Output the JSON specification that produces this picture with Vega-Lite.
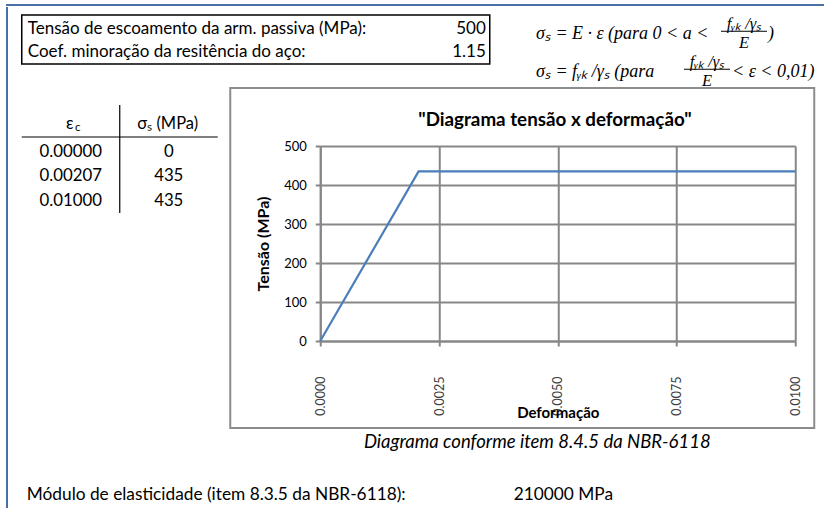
{
  "$schema": "https://vega.github.io/schema/vega-lite/v6.json",
  "background": "white",
  "padding": {"left": 6, "top": 4, "right": 0, "bottom": 0},
  "spacing": 0,
  "config": {
    "view": {"stroke": null},
    "font": "Lato",
    "text": {"font": "Lato", "color": "black", "baseline": "middle"}
  },
  "datasets": {
    "curve": [
      {"eps": 0, "sigma": 0},
      {"eps": 0.00207, "sigma": 434.78},
      {"eps": 0.01, "sigma": 434.78}
    ],
    "params": [
      {"k": "fy", "label": "Tensão de escoamento da arm. passiva (MPa):", "value": "500"},
      {"k": "gs", "label": "Coef. minoração da resitência do aço:", "value": "1.15"}
    ],
    "formula": [
      {"id": "m1", "part": "main", "line": "l1", "t": "σₛ = E · ε (para 0 < a <"},
      {"id": "n1", "part": "num", "line": "l1", "t": "fᵧₖ /γₛ"},
      {"id": "d1", "part": "den", "line": "l1", "t": "E"},
      {"id": "t1", "part": "tail", "line": "l1", "t": ")"},
      {"id": "m2", "part": "main", "line": "l2", "t": "σₛ = fᵧₖ /γₛ (para"},
      {"id": "n2", "part": "num", "line": "l2", "t": "fᵧₖ /γₛ"},
      {"id": "d2", "part": "den", "line": "l2", "t": "E"},
      {"id": "t2", "part": "tail", "line": "l2", "t": "< ε < 0,01)"}
    ],
    "head": [
      {"col": "eps", "h": "ε", "sub": "c"},
      {"col": "sig", "h": "σₛ (MPa)", "sub": ""}
    ],
    "notes": [
      {"k": "lab", "row": "foot", "t": "Módulo de elasticidade (item 8.3.5 da NBR-6118):"},
      {"k": "val", "row": "foot", "t": "210000 MPa"},
      {"k": "val", "row": "cap", "t": "Diagrama conforme item 8.4.5 da NBR-6118"}
    ]
  },
  "vconcat": [
    {
      "width": 816,
      "height": 0.01,
      "view": {"stroke": "#4a6ea6", "strokeWidth": 2},
      "data": {"values": []},
      "mark": "text"
    },
    {
      "spacing": 11.75,
      "hconcat": [
        {
          "width": 0.01,
          "height": 500,
          "view": {"stroke": "#4a6ea6", "strokeWidth": 2},
          "data": {"values": []},
          "mark": "text"
        },
        {
          "spacing": 0,
          "vconcat": [
            {
              "width": 1,
              "height": 5.25,
              "data": {"values": []},
              "mark": "text"
            },
            {
              "spacing": -4,
              "vconcat": [
                {
                  "spacing": 29.25,
                  "hconcat": [
                    {
                      "width": 468,
                      "height": 49,
                      "view": {"stroke": "black", "strokeWidth": 1.5},
                      "data": {"name": "params"},
                      "encoding": {
                        "y": {"field": "k", "type": "nominal", "scale": {"type": "point", "domain": ["fy", "gs"], "range": [14, 37], "padding": 0}, "axis": null}
                      },
                      "layer": [
                        {
                          "mark": {"type": "text", "align": "left", "fontSize": 17},
                          "encoding": {
                            "x": {"datum": "label", "type": "nominal", "scale": {"type": "point", "domain": ["label", "value"], "range": [6, 464], "padding": 0}, "axis": null},
                            "text": {"field": "label"}
                          }
                        },
                        {
                          "mark": {"type": "text", "align": "right", "fontSize": 17},
                          "encoding": {
                            "x": {"datum": "value", "type": "nominal", "scale": {"type": "point", "domain": ["label", "value"], "range": [6, 464], "padding": 0}, "axis": null},
                            "text": {"field": "value"}
                          }
                        }
                      ]
                    },
                    {
                      "width": 300,
                      "height": 74,
                      "data": {"name": "formula"},
                      "encoding": {
                        "x": {"datum": "L", "type": "nominal", "scale": {"type": "point", "domain": ["L", "R"], "range": [0, 300], "padding": 0}, "axis": null},
                        "y": {"field": "line", "type": "nominal", "scale": {"type": "point", "domain": ["l1", "l2"], "range": [18.75, 56.75], "padding": 0}, "axis": null}
                      },
                      "layer": [
                        {"transform": [{"filter": "datum.part == 'main'"}], "mark": {"type": "text", "align": "left", "dx": 16, "font": "Liberation Serif", "fontStyle": "italic", "fontSize": 18}, "encoding": {"text": {"field": "t"}}},
                        {"transform": [{"filter": "datum.id == 'n1'"}], "mark": {"type": "text", "align": "center", "dx": 224, "dy": -10, "font": "Liberation Serif", "fontStyle": "italic", "fontSize": 16.5}, "encoding": {"text": {"field": "t"}}},
                        {"transform": [{"filter": "datum.id == 'd1'"}], "mark": {"type": "text", "align": "center", "dx": 224, "dy": 9, "font": "Liberation Serif", "fontStyle": "italic", "fontSize": 16.5}, "encoding": {"text": {"field": "t"}}},
                        {"transform": [{"filter": "datum.id == 't1'"}], "mark": {"type": "text", "align": "left", "dx": 248, "font": "Liberation Serif", "fontStyle": "italic", "fontSize": 18}, "encoding": {"text": {"field": "t"}}},
                        {"transform": [{"filter": "datum.id == 'n2'"}], "mark": {"type": "text", "align": "center", "dx": 187, "dy": -10, "font": "Liberation Serif", "fontStyle": "italic", "fontSize": 16.5}, "encoding": {"text": {"field": "t"}}},
                        {"transform": [{"filter": "datum.id == 'd2'"}], "mark": {"type": "text", "align": "center", "dx": 187, "dy": 9, "font": "Liberation Serif", "fontStyle": "italic", "fontSize": 16.5}, "encoding": {"text": {"field": "t"}}},
                        {"transform": [{"filter": "datum.id == 't2'"}], "mark": {"type": "text", "align": "left", "dx": 212, "font": "Liberation Serif", "fontStyle": "italic", "fontSize": 18}, "encoding": {"text": {"field": "t"}}},
                        {"transform": [{"filter": "datum.id == 'n1'"}], "mark": {"type": "tick", "orient": "horizontal", "size": 46, "thickness": 1, "xOffset": 224, "yOffset": -2.5, "color": "black", "opacity": 1}},
                        {"transform": [{"filter": "datum.id == 'n2'"}], "mark": {"type": "tick", "orient": "horizontal", "size": 46, "thickness": 1, "xOffset": 187, "yOffset": -2.5, "color": "black", "opacity": 1}}
                      ]
                    }
                  ]
                },
                {
                  "spacing": 2,
                  "vconcat": [
                    {
                      "spacing": 10.5,
                      "hconcat": [
                        {
                          "width": 196,
                          "height": 130,
                          "layer": [
                            {
                              "data": {"name": "head"},
                              "mark": {"type": "text", "fontSize": 16.5, "dx": -1, "dy": -3},
                              "encoding": {
                                "x": {"field": "col", "type": "nominal", "scale": {"type": "band", "domain": ["eps", "sig"], "paddingInner": 0, "paddingOuter": 0}, "axis": null},
                                "y": {"datum": "hdr", "type": "ordinal", "scale": {"type": "point", "domain": ["hdr", 0, 0.00207, 0.01], "range": [-19, 55], "padding": 0}, "axis": null},
                                "text": {"field": "h"}
                              }
                            },
                            {
                              "data": {"name": "head"},
                              "transform": [{"filter": "datum.sub != ''"}],
                              "mark": {"type": "text", "fontSize": 11.5, "dx": 7, "dy": 1},
                              "encoding": {
                                "x": {"field": "col", "type": "nominal"},
                                "y": {"datum": "hdr", "type": "ordinal"},
                                "text": {"field": "sub"}
                              }
                            },
                            {
                              "data": {"name": "curve"},
                              "mark": {"type": "text", "fontSize": 16.8},
                              "encoding": {
                                "x": {"datum": "eps", "type": "nominal"},
                                "y": {"field": "eps", "type": "ordinal"},
                                "text": {"field": "eps", "type": "quantitative", "format": ".5f"}
                              }
                            },
                            {
                              "data": {"name": "curve"},
                              "mark": {"type": "text", "fontSize": 16.8},
                              "encoding": {
                                "x": {"datum": "sig", "type": "nominal"},
                                "y": {"field": "eps", "type": "ordinal"},
                                "text": {"field": "sigma", "type": "quantitative", "format": ".0f"}
                              }
                            },
                            {
                              "data": {"values": [{}]},
                              "mark": {"type": "rule", "color": "black", "strokeWidth": 1.2, "yOffset": 10},
                              "encoding": {"y": {"datum": "hdr", "type": "ordinal"}}
                            },
                            {
                              "data": {"values": [{}]},
                              "mark": {"type": "rule", "color": "black", "strokeWidth": 1.2, "yOffset": -22, "y2Offset": 12},
                              "encoding": {
                                "x": {"datum": "sig", "type": "nominal", "bandPosition": 0},
                                "y": {"datum": "hdr", "type": "ordinal"},
                                "y2": {"datum": 0.01}
                              }
                            }
                          ]
                        },
                        {
                          "width": 475,
                          "height": 195,
                          "layer": [
                            {
                              "data": {"values": [{}]},
                              "mark": {"type": "rect", "fill": "transparent", "stroke": "#8c8c8c", "strokeWidth": 2},
                              "encoding": {
                                "x": {"datum": -0.0018947, "type": "quantitative", "scale": {"domain": [0, 0.01], "nice": false, "zero": false},
                                  "axis": {"values": [0, 0.0025, 0.005, 0.0075, 0.01], "format": ".4f", "labelAngle": -90, "labelAlign": "right", "labelBaseline": "middle", "labelFlush": false, "labelOverlap": false, "labelPadding": 30, "labelFontSize": 12.5, "labelColor": "#404040", "labelFont": "Lato", "tickSize": 5, "tickWidth": 2, "tickColor": "#878787", "domainColor": "#878787", "domainWidth": 2, "grid": true, "gridColor": "#878787", "gridWidth": 2, "title": "Deformação", "titleFont": "Lato", "titleFontSize": 15, "titleFontWeight": "bold", "titleColor": "black", "titleY": 76.5, "titleBaseline": "alphabetic"}},
                                "x2": {"datum": 0.0104},
                                "y": {"datum": 648.72, "type": "quantitative", "scale": {"domain": [0, 500], "nice": false},
                                  "axis": {"values": [0, 100, 200, 300, 400, 500], "labelFontSize": 13, "labelColor": "black", "labelPadding": 9, "labelFont": "Lato", "labelOverlap": false, "tickSize": 5, "tickWidth": 2, "tickColor": "#878787", "domainColor": "#878787", "domainWidth": 2, "grid": true, "gridColor": "#878787", "gridWidth": 2, "title": "Tensão (MPa)", "titleFont": "Lato", "titleFontSize": 16, "titleFontWeight": "bold", "titleColor": "black", "titleX": -57, "titleY": 97.5, "titleAngle": 270, "titleBaseline": "middle", "titleAlign": "center"}},
                                "y2": {"datum": -223.08}
                              }
                            },
                            {
                              "data": {"values": [{}]},
                              "mark": {"type": "text", "fontSize": 18.8, "fontWeight": "bold"},
                              "encoding": {
                                "x": {"datum": 0.004941, "type": "quantitative", "scale": {"domain": [0, 0.01], "nice": false, "zero": false},
                                  "axis": {"values": [0, 0.0025, 0.005, 0.0075, 0.01], "format": ".4f", "labelAngle": -90, "labelAlign": "right", "labelBaseline": "middle", "labelFlush": false, "labelOverlap": false, "labelPadding": 30, "labelFontSize": 12.5, "labelColor": "#404040", "labelFont": "Lato", "tickSize": 5, "tickWidth": 2, "tickColor": "#878787", "domainColor": "#878787", "domainWidth": 2, "grid": true, "gridColor": "#878787", "gridWidth": 2, "title": "Deformação", "titleFont": "Lato", "titleFontSize": 15, "titleFontWeight": "bold", "titleColor": "black", "titleY": 76.5, "titleBaseline": "alphabetic"}},
                                "y": {"datum": 567, "type": "quantitative", "scale": {"domain": [0, 500], "nice": false},
                                  "axis": {"values": [0, 100, 200, 300, 400, 500], "labelFontSize": 13, "labelColor": "black", "labelPadding": 9, "labelFont": "Lato", "labelOverlap": false, "tickSize": 5, "tickWidth": 2, "tickColor": "#878787", "domainColor": "#878787", "domainWidth": 2, "grid": true, "gridColor": "#878787", "gridWidth": 2, "title": "Tensão (MPa)", "titleFont": "Lato", "titleFontSize": 16, "titleFontWeight": "bold", "titleColor": "black", "titleX": -57, "titleY": 97.5, "titleAngle": 270, "titleBaseline": "middle", "titleAlign": "center"}},
                                "text": {"value": "\"Diagrama tensão x deformação\""}
                              }
                            },
                            {
                              "data": {"name": "curve"},
                              "mark": {"type": "line", "color": "#4a7ebb", "strokeWidth": 2.2},
                              "encoding": {
                                "x": {"field": "eps", "type": "quantitative", "scale": {"domain": [0, 0.01], "nice": false, "zero": false},
                                  "axis": {"values": [0, 0.0025, 0.005, 0.0075, 0.01], "format": ".4f", "labelAngle": -90, "labelAlign": "right", "labelBaseline": "middle", "labelFlush": false, "labelOverlap": false, "labelPadding": 30, "labelFontSize": 12.5, "labelColor": "#404040", "labelFont": "Lato", "tickSize": 5, "tickWidth": 2, "tickColor": "#878787", "domainColor": "#878787", "domainWidth": 2, "grid": true, "gridColor": "#878787", "gridWidth": 2, "title": "Deformação", "titleFont": "Lato", "titleFontSize": 15, "titleFontWeight": "bold", "titleColor": "black", "titleY": 76.5, "titleBaseline": "alphabetic"}},
                                "y": {"field": "sigma", "type": "quantitative", "scale": {"domain": [0, 500], "nice": false},
                                  "axis": {"values": [0, 100, 200, 300, 400, 500], "labelFontSize": 13, "labelColor": "black", "labelPadding": 9, "labelFont": "Lato", "labelOverlap": false, "tickSize": 5, "tickWidth": 2, "tickColor": "#878787", "domainColor": "#878787", "domainWidth": 2, "grid": true, "gridColor": "#878787", "gridWidth": 2, "title": "Tensão (MPa)", "titleFont": "Lato", "titleFontSize": 16, "titleFontWeight": "bold", "titleColor": "black", "titleX": -57, "titleY": 97.5, "titleAngle": 270, "titleBaseline": "middle", "titleAlign": "center"}}
                              }
                            }
                          ]
                        }
                      ]
                    },
                    {
                      "width": 600,
                      "height": 73,
                      "data": {"name": "notes"},
                      "encoding": {
                        "y": {"field": "row", "type": "nominal", "scale": {"type": "point", "domain": ["cap", "foot"], "range": [10, 63], "padding": 0}, "axis": null},
                        "text": {"field": "t"}
                      },
                      "layer": [
                        {
                          "transform": [{"filter": "datum.row == 'foot'"}],
                          "mark": {"type": "text", "align": "left", "fontSize": 17.3},
                          "encoding": {
                            "x": {"field": "k", "type": "nominal", "scale": {"type": "point", "domain": ["lab", "val"], "range": [5, 492], "padding": 0}, "axis": null}
                          }
                        },
                        {
                          "transform": [{"filter": "datum.row == 'cap'"}],
                          "mark": {"type": "text", "align": "center", "fontSize": 18.5, "fontStyle": "italic", "dx": 23.5},
                          "encoding": {
                            "x": {"field": "k", "type": "nominal", "scale": {"type": "point", "domain": ["lab", "val"], "range": [5, 492], "padding": 0}, "axis": null}
                          }
                        }
                      ]
                    }
                  ]
                }
              ]
            }
          ]
        }
      ]
    }
  ]
}
